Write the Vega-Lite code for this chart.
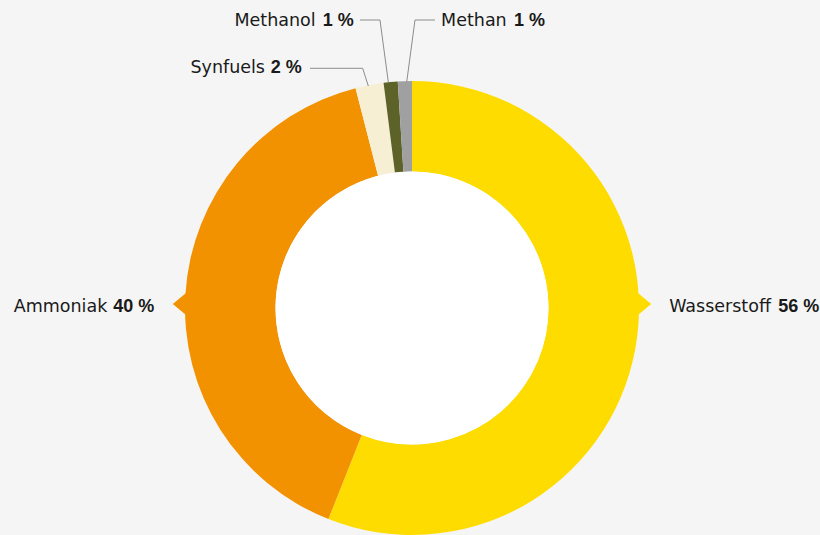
{
  "$schema": "https://vega.github.io/schema/vega-lite/v6.json",
  "width": 454,
  "height": 454,
  "autosize": {"type": "none"},
  "padding": {"left": 185, "top": 81, "right": 181, "bottom": 0},
  "background": "#f5f5f5",
  "config": {"view": {"stroke": null}},
  "datasets": {
    "shares": [
      {"name": "Wasserstoff", "share": 56, "order": 1},
      {"name": "Ammoniak", "share": 40, "order": 2},
      {"name": "Synfuels", "share": 2, "order": 3},
      {"name": "Methanol", "share": 1, "order": 4},
      {"name": "Methan", "share": 1, "order": 5}
    ],
    "labels": [
      {"name": "Wasserstoff", "pct": "56 %", "xEnd": 1.5815, "xPct": 1.6137, "y": -0.0176},
      {"name": "Ammoniak", "pct": "40 %", "xEnd": -1.3423, "xPct": -1.3159, "y": -0.0176},
      {"name": "Synfuels", "pct": "2 %", "xEnd": -0.6476, "xPct": -0.6225, "y": 1.0366},
      {"name": "Methanol", "pct": "1 %", "xEnd": -0.4243, "xPct": -0.3934, "y": 1.2437},
      {"name": "Methan", "pct": "1 %", "xEnd": 0.4172, "xPct": 0.4493, "y": 1.2437}
    ],
    "leaders": [
      {"id": "Synfuels", "seq": 1, "x": -0.4493, "y": 1.0559},
      {"id": "Synfuels", "seq": 2, "x": -0.2172, "y": 1.0559},
      {"id": "Synfuels", "seq": 3, "x": -0.1925, "y": 0.978},
      {"id": "Methanol", "seq": 1, "x": -0.2291, "y": 1.2687},
      {"id": "Methanol", "seq": 2, "x": -0.141, "y": 1.2687},
      {"id": "Methanol", "seq": 3, "x": -0.1044, "y": 0.9956},
      {"id": "Methan", "seq": 1, "x": 0.1013, "y": 1.2687},
      {"id": "Methan", "seq": 2, "x": 0.0132, "y": 1.2687},
      {"id": "Methan", "seq": 3, "x": -0.0233, "y": 0.9956}
    ],
    "pointers": [
      {"name": "Wasserstoff", "side": "right", "x": 0.9956, "y": 0.0176},
      {"name": "Ammoniak", "side": "left", "x": -0.9956, "y": 0.0176}
    ]
  },
  "resolve": {"scale": {"theta": "independent"}},
  "layer": [
    {
      "data": {"name": "shares"},
      "mark": {"type": "arc", "radius": 227, "radius2": 136.5, "strokeWidth": 0},
      "encoding": {
        "theta": {"field": "share", "type": "quantitative", "stack": true},
        "order": {"field": "order", "type": "quantitative"},
        "color": {
          "field": "name",
          "type": "nominal",
          "scale": {
            "domain": ["Wasserstoff", "Ammoniak", "Synfuels", "Methanol", "Methan"],
            "range": ["#ffdc00", "#f39200", "#f7efd3", "#5d6328", "#a0a0a0"]
          },
          "legend": null
        }
      }
    },
    {
      "data": {"values": [{"v": 1}]},
      "mark": {"type": "arc", "radius": 136.5, "color": "#ffffff", "strokeWidth": 0},
      "encoding": {"theta": {"field": "v", "type": "quantitative"}}
    },
    {
      "data": {"name": "pointers"},
      "mark": {"type": "point", "filled": true, "opacity": 1, "size": 484, "strokeWidth": 0},
      "encoding": {
        "x": {"field": "x", "type": "quantitative", "scale": {"domain": [-1, 1], "nice": false, "zero": false}, "axis": null},
        "y": {"field": "y", "type": "quantitative", "scale": {"domain": [-1, 1], "nice": false, "zero": false}, "axis": null},
        "shape": {
          "field": "side",
          "type": "nominal",
          "scale": {"domain": ["right", "left"], "range": ["M 0 -1 L 1.2 0 L 0 1 Z", "M 0 -1 L -1.2 0 L 0 1 Z"]},
          "legend": null
        },
        "color": {
          "field": "name",
          "type": "nominal",
          "scale": {
            "domain": ["Wasserstoff", "Ammoniak", "Synfuels", "Methanol", "Methan"],
            "range": ["#ffdc00", "#f39200", "#f7efd3", "#5d6328", "#a0a0a0"]
          },
          "legend": null
        }
      }
    },
    {
      "data": {"name": "leaders"},
      "mark": {"type": "line", "color": "#8c8c8c", "strokeWidth": 1, "clip": false},
      "encoding": {
        "x": {"field": "x", "type": "quantitative", "scale": {"domain": [-1, 1], "nice": false, "zero": false}, "axis": null},
        "y": {"field": "y", "type": "quantitative", "scale": {"domain": [-1, 1], "nice": false, "zero": false}, "axis": null},
        "detail": {"field": "id", "type": "nominal"},
        "order": {"field": "seq", "type": "quantitative"}
      }
    },
    {
      "data": {"name": "labels"},
      "mark": {"type": "text", "align": "right", "baseline": "alphabetic", "font": "DejaVu Sans", "fontSize": 17.5, "color": "#1a1a1a"},
      "encoding": {
        "x": {"field": "xEnd", "type": "quantitative", "scale": {"domain": [-1, 1], "nice": false, "zero": false}, "axis": null},
        "y": {"field": "y", "type": "quantitative", "scale": {"domain": [-1, 1], "nice": false, "zero": false}, "axis": null},
        "text": {"field": "name", "type": "nominal"}
      }
    },
    {
      "data": {"name": "labels"},
      "mark": {"type": "text", "align": "left", "baseline": "alphabetic", "font": "Liberation Sans", "fontWeight": "bold", "fontSize": 18, "color": "#1a1a1a"},
      "encoding": {
        "x": {"field": "xPct", "type": "quantitative", "scale": {"domain": [-1, 1], "nice": false, "zero": false}, "axis": null},
        "y": {"field": "y", "type": "quantitative", "scale": {"domain": [-1, 1], "nice": false, "zero": false}, "axis": null},
        "text": {"field": "pct", "type": "nominal"}
      }
    }
  ]
}
